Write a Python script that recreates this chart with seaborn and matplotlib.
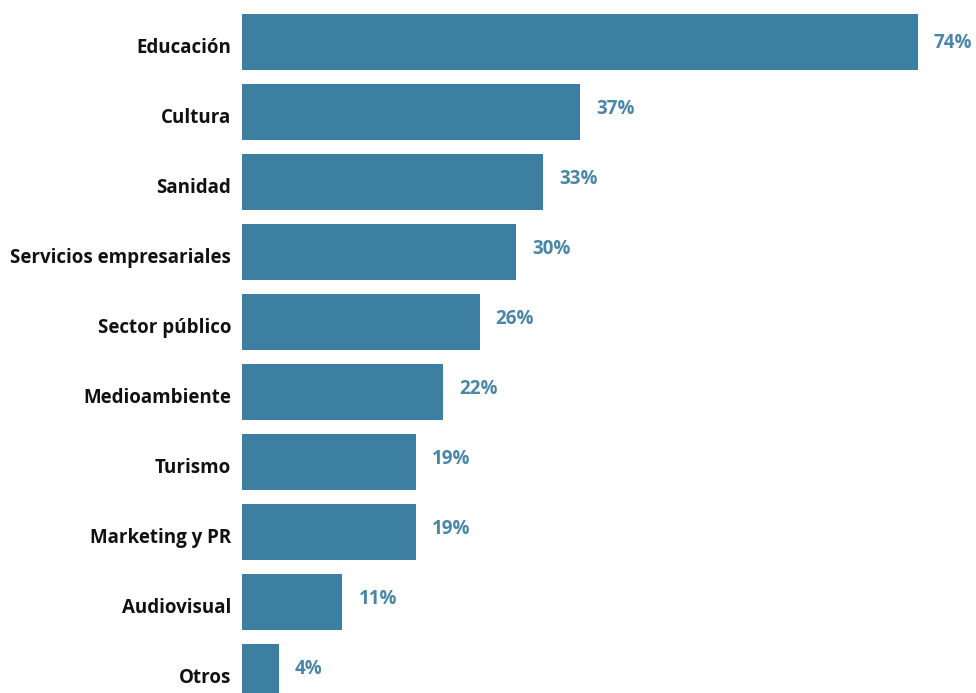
import matplotlib
matplotlib.use("Agg")
import matplotlib.pyplot as plt
import seaborn as sns
import pandas as pd

sectores = ["Educación", "Cultura", "Sanidad", "Servicios empresariales",
            "Sector público", "Medioambiente", "Turismo", "Marketing y PR",
            "Audiovisual", "Otros"]
porcentajes = [74, 37, 33, 30, 26, 22, 19, 19, 11, 4]

df = pd.DataFrame({"sector": sectores, "pct": porcentajes})

sns.set_theme(style="white")
plt.rcParams["font.family"] = ["Open Sans", "DejaVu Sans"]

BAR = "#3d7fa0"
LABEL = "#4a86a8"

fig = plt.figure(figsize=(9.76, 6.93), dpi=100)
ax = fig.add_axes([242 / 976, 0, 1 - 242 / 976, 1])

sns.barplot(data=df, y="sector", x="pct", orient="h", color=BAR,
            saturation=1, width=0.8, linewidth=0, ax=ax)

ax.set_xlim(0, (976 - 242) / (676 / 74))
ax.set_ylim(9.3, -0.6)

for i, v in enumerate(porcentajes):
    dy = 0.02 if i == 0 else -0.05
    ax.text(v + 1.75, i + dy, f"{v}%", va="center", ha="left",
            fontsize=13.5, fontweight="bold", color=LABEL, clip_on=False)

ax.set_xlabel("")
ax.set_ylabel("")
ax.set_xticks([])
ax.set_yticks(range(len(sectores)))
ax.set_yticklabels([])
ax.tick_params(axis="y", length=0)
for i, s in enumerate(sectores):
    ax.text(-1.2, i + 0.09, s, va="center", ha="right", fontsize=13.5,
            fontweight="bold", color="#111111", clip_on=False)
for s in ax.spines.values():
    s.set_visible(False)

fig.savefig("out.png", dpi=100)
